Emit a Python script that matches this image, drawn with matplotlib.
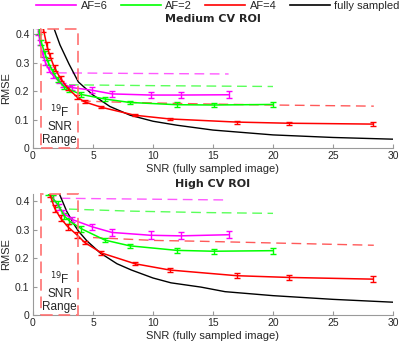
import matplotlib
matplotlib.use("Agg")
import matplotlib.pyplot as plt
from matplotlib.patches import Rectangle
from matplotlib.lines import Line2D

# ---------------- data: Medium CV ROI (top) ----------------
m_af6_x = [0.45, 0.58, 0.81, 1.04, 1.33, 1.67, 2.14, 2.48, 3.29, 4.91, 6.58, 9.81, 12.3, 16.34]
m_af6_y = [0.41, 0.37, 0.33, 0.30, 0.275, 0.255, 0.235, 0.222, 0.212, 0.203, 0.19, 0.186, 0.186, 0.187]
m_af6_e = [0.012, 0.01, 0.01, 0.008, 0.008, 0.008, 0.008, 0.008, 0.008, 0.01, 0.01, 0.012, 0.012, 0.012]

m_af2_x = [0.5, 0.7, 1.0, 1.27, 1.63, 2.05, 2.6, 3.04, 4.03, 6.0, 8.06, 12.0, 15.06, 20.0]
m_af2_y = [0.41, 0.37, 0.33, 0.30, 0.27, 0.24, 0.215, 0.205, 0.188, 0.172, 0.16, 0.152, 0.151, 0.153]
m_af2_e = [0.01, 0.01, 0.01, 0.008, 0.008, 0.008, 0.008, 0.008, 0.008, 0.008, 0.006, 0.008, 0.008, 0.008]

m_af4_x = [0.85, 1.15, 1.4, 1.8, 2.3, 2.9, 3.7, 4.3, 5.7, 8.5, 11.4, 17.0, 21.3, 28.3]
m_af4_y = [0.42, 0.36, 0.325, 0.28, 0.244, 0.21, 0.178, 0.162, 0.143, 0.115, 0.102, 0.091, 0.087, 0.084]
m_af4_e = [0.012, 0.012, 0.01, 0.01, 0.008, 0.008, 0.007, 0.005, 0.004, 0.004, 0.003, 0.005, 0.006, 0.006]

m_full_x = [1.75, 2.25, 3.0, 3.78, 5.0, 6.4, 8.1, 10.0, 12.0, 15.0, 20.0, 25.0, 30.0]
m_full_y = [0.42, 0.362, 0.295, 0.232, 0.186, 0.146, 0.115, 0.094, 0.08, 0.063, 0.046, 0.037, 0.031]

m_af6_dash_x = [2.0, 8.0, 16.3]
m_af6_dash_y = [0.264, 0.262, 0.260]
m_af2_dash_x = [3.0, 10.0, 20.0]
m_af2_dash_y = [0.222, 0.219, 0.216]
m_af4_dash_x = [4.0, 8.0, 14.0, 20.0, 28.4]
m_af4_dash_y = [0.165, 0.160, 0.155, 0.151, 0.147]

# ---------------- data: High CV ROI (bottom) ----------------
h_af6_x = [1.67, 2.14, 2.48, 3.29, 4.91, 6.58, 9.81, 12.3, 16.34]
h_af6_y = [0.41, 0.38, 0.36, 0.335, 0.31, 0.29, 0.28, 0.278, 0.282]
h_af6_e = [0.01, 0.01, 0.01, 0.01, 0.01, 0.012, 0.014, 0.012, 0.012]

h_af2_x = [1.27, 1.63, 2.05, 2.6, 3.04, 4.03, 6.0, 8.06, 12.0, 15.06, 20.0]
h_af2_y = [0.43, 0.41, 0.39, 0.348, 0.33, 0.303, 0.263, 0.243, 0.227, 0.224, 0.226]
h_af2_e = [0.01, 0.01, 0.01, 0.01, 0.01, 0.01, 0.008, 0.008, 0.008, 0.008, 0.01]

h_af4_x = [1.4, 1.8, 2.3, 2.9, 3.7, 4.3, 5.7, 8.5, 11.4, 17.0, 21.3, 28.3]
h_af4_y = [0.425, 0.375, 0.34, 0.31, 0.28, 0.255, 0.218, 0.18, 0.158, 0.138, 0.132, 0.126]
h_af4_e = [0.012, 0.012, 0.01, 0.01, 0.01, 0.006, 0.006, 0.006, 0.006, 0.008, 0.01, 0.01]

h_full_x = [2.2, 2.8, 3.4, 3.78, 4.5, 5.6, 7.0, 8.2, 10.0, 11.5, 14.0, 16.0, 20.0, 25.0, 30.0]
h_full_y = [0.425, 0.365, 0.32, 0.295, 0.26, 0.218, 0.18, 0.158, 0.13, 0.113, 0.098, 0.082, 0.068, 0.055, 0.045]

h_af6_dash_x = [2.3, 16.3]
h_af6_dash_y = [0.41, 0.404]
h_af2_dash_x = [3.0, 8.0, 14.0, 20.0]
h_af2_dash_y = [0.372, 0.365, 0.360, 0.357]
h_af4_dash_x = [5.0, 10.0, 14.0, 20.0, 28.4]
h_af4_dash_y = [0.272, 0.262, 0.259, 0.253, 0.245]

# shaded range
range_x0, range_x1 = 0.67, 3.78

legend_labels = ["AF=6", "AF=2", "AF=4", "fully sampled"]
xticks = [0, 5, 10, 15, 20, 25, 30]
yticks = [0, 0.1, 0.2, 0.3, 0.4]

C6, C2, C4 = "#ff00ff", "#00ff00", "#ff0000"
TXT = "#262626"
SPINE = "#9a9a9a"

plt.rcParams['font.family'] = ['Liberation Sans', 'DejaVu Sans']
fig = plt.figure(figsize=(4.0, 3.43), dpi=100)
ax1 = fig.add_axes([0.0825, 0.5685, 0.90, 0.347])
ax2 = fig.add_axes([0.0825, 0.0816, 0.90, 0.3528])


def draw(ax, title, ymax, s6, s2, s4, full, d6, d2, d4):
    # dashed reference lines
    ax.plot(d6[0], d6[1], ls=(0, (7, 4)), color=C6, lw=1.0, alpha=0.65, zorder=2)
    ax.plot(d2[0], d2[1], ls=(0, (7, 4)), color=C2, lw=1.0, alpha=0.65, zorder=2)
    ax.plot(d4[0], d4[1], ls=(0, (7, 4)), color=C4, lw=1.0, alpha=0.65, zorder=2)
    ax.plot(full[0], full[1], color="black", lw=1.0, zorder=3)
    for (x, y, e), c in zip([s6, s2, s4], [C6, C2, C4]):
        ax.errorbar(x, y, yerr=e, color=c, lw=1.1, elinewidth=1.0, capsize=2.2,
                    capthick=1.0, zorder=4)
    rect = Rectangle((range_x0, 0), range_x1 - range_x0, ymax, fill=False,
                     edgecolor="#ff7070", lw=1.4, ls=(0, (6, 3)), alpha=0.85,
                     zorder=5, clip_on=False)
    ax.add_patch(rect)
    ax.text((range_x0 + range_x1) / 2, 0.006, "$^{19}$F\nSNR\nRange", ha="center",
            va="bottom", fontsize=8.5, color=TXT, linespacing=1.1, zorder=6)
    ax.set_xlim(0, 30)
    ax.set_ylim(0, ymax)
    ax.set_xticks(xticks)
    ax.set_yticks(yticks)
    ax.set_yticklabels(["0", "0.1", "0.2", "0.3", "0.4"])
    ax.tick_params(direction="in", length=3, width=0.8, colors=SPINE,
                   labelcolor=TXT, labelsize=7.5, pad=2.5)
    for s in ["top", "right"]:
        ax.spines[s].set_visible(False)
    for s in ["left", "bottom"]:
        ax.spines[s].set_color(SPINE)
        ax.spines[s].set_linewidth(0.8)
    ax.set_title(title, fontsize=8, fontweight="bold", color=TXT, pad=5,
                 family=['DejaVu Sans'])
    ax.set_xlabel("SNR (fully sampled image)", fontsize=8, color=TXT, labelpad=2)
    ax.set_ylabel("RMSE", fontsize=8, color=TXT, labelpad=3)


draw(ax1, "Medium CV ROI", 0.418,
     (m_af6_x, m_af6_y, m_af6_e), (m_af2_x, m_af2_y, m_af2_e), (m_af4_x, m_af4_y, m_af4_e),
     (m_full_x, m_full_y),
     (m_af6_dash_x, m_af6_dash_y), (m_af2_dash_x, m_af2_dash_y), (m_af4_dash_x, m_af4_dash_y))
draw(ax2, "High CV ROI", 0.425,
     (h_af6_x, h_af6_y, h_af6_e), (h_af2_x, h_af2_y, h_af2_e), (h_af4_x, h_af4_y, h_af4_e),
     (h_full_x, h_full_y),
     (h_af6_dash_x, h_af6_dash_y), (h_af2_dash_x, h_af2_dash_y), (h_af4_dash_x, h_af4_dash_y))

handles = [Line2D([], [], color=C6, lw=1.2), Line2D([], [], color=C2, lw=1.2),
           Line2D([], [], color=C4, lw=1.2), Line2D([], [], color="black", lw=1.2)]
fig.legend(handles, legend_labels, loc="upper center", bbox_to_anchor=(0.545, 1.0),
           ncol=4, frameon=False, fontsize=8, handlelength=3.6, handletextpad=0.4,
           columnspacing=1.2, labelcolor=TXT, borderpad=0.05, borderaxespad=0.0)

fig.savefig("out.png", dpi=100)
